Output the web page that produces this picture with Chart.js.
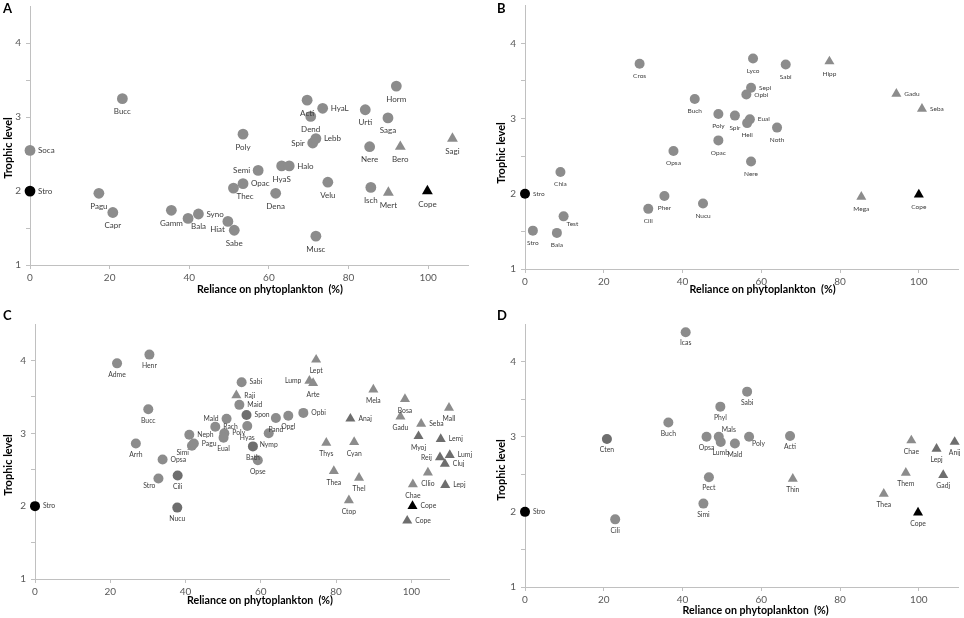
<!DOCTYPE html>
<html>
<head>
<meta charset="utf-8">
<script src="https://cdn.jsdelivr.net/npm/chart.js@4.4.1/dist/chart.umd.min.js"></script>
<style>
  body { margin: 0; background: #fff; width: 964px; height: 618px; position: relative; overflow: hidden; }
  .panel { position: absolute; }
</style>
</head>
<body>
<div class="panel" style="left:0;top:0;width:482px;height:305px"><canvas id="chartA"></canvas></div>
<div class="panel" style="left:482px;top:0;width:482px;height:305px"><canvas id="chartB"></canvas></div>
<div class="panel" style="left:0;top:305px;width:482px;height:313px"><canvas id="chartC"></canvas></div>
<div class="panel" style="left:482px;top:305px;width:482px;height:313px"><canvas id="chartD"></canvas></div>
<script>
const xTitle = "Reliance on phytoplankton  (%)";
const yTitle = "Trophic level";
const xTicks = [0, 20, 40, 60, 80, 100];
const yTickLabels = [1, 2, 3, 4];

// group codes: c = circle, cd = darker circle, t = triangle, td = darker triangle,
// rc = Stro reference (black circle), rt = Cope reference (black triangle)

// panel A
const namesA = ["Soca","Stro","Bucc","Pagu","Capr","Gamm","Bala","Syno","Hiat","Sabe","Thec","Opac","Semi","Poly","Dena","HyaS","Halo","Acti","HyaL","Dend","Spir","Lebb","Urti","Horm","Saga","Nere","Bero","Sagi","Velu","Isch","Mert","Cope","Musc"];
const relianceA = [0, 0, 23.2, 17.3, 20.8, 35.5, 39.7, 42.3, 49.7, 51.3, 51.1, 53.5, 57.3, 53.5, 61.7, 63.2, 65.1, 69.6, 73.5, 70.5, 71.0, 71.8, 84.2, 92.0, 89.9, 85.3, 93.0, 106.1, 74.8, 85.6, 90.0, 99.8, 71.8];
const trophicA = [2.55, 2.00, 3.25, 1.97, 1.71, 1.74, 1.63, 1.69, 1.59, 1.47, 2.04, 2.10, 2.28, 2.77, 1.97, 2.34, 2.34, 3.23, 3.12, 3.01, 2.65, 2.71, 3.10, 3.42, 2.99, 2.60, 2.60, 2.71, 2.12, 2.05, 1.98, 2.00, 1.39];
const groupA = ["c","rc","c","c","c","c","c","c","c","c","c","c","c","c","c","c","c","c","c","c","c","c","c","c","c","c","t","t","c","c","t","rt","c"];

// panel B
const namesB = ["Cros","Buch","Poly","Opac","Opsa","Chla","Stro","Test","Stro","Bala","Cili","Pher","Nucu","Lyco","Sabi","Hipp","Sepi","Opbi","Gadu","Seba","Spir","Eual","Heli","Noth","Nere","Mega","Cope"];
const relianceB = [29.1, 43.1, 49.1, 49.1, 37.7, 9.0, 0, 9.8, 2.0, 8.1, 31.3, 35.4, 45.2, 57.9, 66.2, 77.3, 57.4, 56.2, 94.3, 100.8, 53.3, 57.1, 56.4, 64.0, 57.4, 85.4, 100];
const trophicB = [3.73, 3.26, 3.06, 2.71, 2.57, 2.29, 2.00, 1.70, 1.51, 1.48, 1.80, 1.97, 1.87, 3.80, 3.72, 3.76, 3.41, 3.32, 3.33, 3.13, 3.04, 2.99, 2.94, 2.88, 2.43, 1.96, 1.99];
const groupB = ["c","c","c","c","c","c","rc","c","c","c","c","c","c","c","c","t","c","c","t","t","c","c","c","c","c","t","rt"];

// panel C
const namesC = ["Adme","Henr","Bucc","Arrh","Opsa","Stro","Cili","Nucu","Stro","Simi","Pagu","Neph","Rach","Mald","Poly","Eual","Sabi","Raji","Maid","Spon","Hyas","Pand","Opgl","Opbi","Nymp","Bath","Opse","Lept","Lump","Arte","Anaj","Thys","Cyan","Thea","Thel","Ctop","Mela","Bosa","Mall","Gadu","Seba","Myoj","Lemj","Reij","Lumj","Cluj","Cllio","Chae","Lepj","Cope","Cope"];
const relianceC = [21.8, 30.4, 30.1, 26.8, 33.9, 32.8, 37.9, 37.8, 0, 41.7, 42.2, 41.0, 47.9, 50.9, 50.3, 50.1, 54.9, 53.5, 54.3, 56.2, 56.4, 64.0, 67.3, 71.3, 62.1, 57.9, 59.2, 74.7, 72.9, 73.9, 83.8, 77.4, 84.8, 79.4, 86.1, 83.4, 89.9, 98.3, 110.0, 97.1, 102.6, 101.9, 107.8, 107.6, 110.2, 108.9, 104.4, 100.4, 109.0, 100.3, 98.9];
const trophicC = [3.96, 4.08, 3.33, 2.86, 2.64, 2.38, 2.42, 1.98, 2.00, 2.83, 2.86, 2.98, 3.09, 3.20, 3.00, 2.94, 3.70, 3.52, 3.39, 3.25, 3.10, 3.21, 3.24, 3.28, 3.00, 2.82, 2.63, 4.01, 3.72, 3.69, 3.20, 2.87, 2.88, 2.48, 2.39, 2.08, 3.60, 3.47, 3.35, 3.23, 3.13, 2.96, 2.92, 2.67, 2.70, 2.58, 2.46, 2.30, 2.29, 2.00, 1.80];
const groupC = ["c","c","c","c","c","c","cd","cd","rc","c","c","c","c","c","c","c","c","t","c","cd","c","c","c","c","c","cd","c","t","t","t","td","t","t","t","t","t","t","t","t","t","t","td","td","td","td","td","t","t","td","rt","td"];

// panel D
const namesD = ["Icas","Buch","Cten","Stro","Cili","Opsa","Lumb","Mals","Mald","Poly","Phyl","Sabi","Acti","Pect","Simi","Thin","Chae","Lepj","Anij","Them","Gadj","Thea","Cope"];
const relianceD = [40.8, 36.4, 20.8, 0, 22.9, 46.1, 49.7, 49.2, 53.3, 56.9, 49.6, 56.4, 67.3, 46.7, 45.3, 68.0, 98.1, 104.5, 109.1, 96.7, 106.2, 91.1, 99.8];
const trophicD = [4.39, 3.19, 2.97, 2.00, 1.90, 3.00, 2.93, 3.00, 2.91, 3.00, 3.40, 3.60, 3.01, 2.46, 2.11, 2.44, 2.95, 2.84, 2.93, 2.52, 2.49, 2.24, 1.99];
const groupD = ["c","c","cd","rc","c","c","c","c","c","c","c","c","c","c","c","t","t","td","td","t","td","t","rt"];

// where each name sits relative to its marker (layout only)
const sideA = ["e","e","s","s","s","s","se","e","sw","s","se","e","w","s","s","s","e","s","e","s","w","e","s","s","s","s","s","s","s","s","s","s","s"];
const sideB = ["s","s","s","s","s","s","e","se","s","s","s","s","s","s","s","s","e","e","e","e","s","e","s","s","s","s","s"];
const sideC = ["s","s","s","s","e","sw","s","s","e","sw","e","e","e","w","e","s","e","e","e","e","s","s","s","e","s","s","s","s","w","s","e","s","s","s","s","s","s","s","s","s","e","s","e","w","e","e","s","s","e","e","e"];
const sideD = ["s","s","s","e","s","s","s","ne","s","se","s","s","s","s","s","s","s","s","s","s","s","s","s"];

const looks = {
  c:  { shape: "circle",   color: "#8c8c8c", r: 5 },
  cd: { shape: "circle",   color: "#6e6e6e", r: 5 },
  t:  { shape: "triangle", color: "#8c8c8c", r: 5.8 },
  td: { shape: "triangle", color: "#6e6e6e", r: 5.8 },
  rc: { shape: "circle",   color: "#000000", r: 5 },
  rt: { shape: "triangle", color: "#000000", r: 5.8 }
};

Chart.defaults.font.family = "Lato";

const panelText = {
  id: "panelText",
  afterDraw(chart, args, o) {
    const ctx = chart.ctx;
    const a = chart.chartArea;
    ctx.save();
    ctx.fillStyle = "#000";
    ctx.textBaseline = "middle";
    ctx.textAlign = "left";
    ctx.font = "bold 13px Lato";
    ctx.fillText(o.letter, o.letterX, o.letterY);
    ctx.font = "bold 11px Lato";
    ctx.textAlign = "center";
    ctx.fillText(xTitle, (a.left + a.right) / 2 + o.xShift, o.xTitleY, 146);
    ctx.translate(o.yTitleX, o.yTitleY);
    ctx.rotate(-Math.PI / 2);
    ctx.fillText(yTitle, 0, 0, 70);
    ctx.restore();
  }
};

const pointLabels = {
  id: "pointLabels",
  afterDatasetsDraw(chart, args, o) {
    const ctx = chart.ctx;
    const ds = chart.data.datasets[0];
    const meta = chart.getDatasetMeta(0);
    ctx.save();
    ctx.font = o.size + "px Lato";
    ctx.fillStyle = "#3c3c3c";
    ctx.textBaseline = "middle";
    meta.data.forEach((p, i) => {
      const side = ds.sides[i];
      const diag = side.length > 1;
      let dx = 0, dy = 0, align = "center";
      if (side.includes("s")) dy = diag ? o.gap * 0.65 : o.gap;
      if (side.includes("n")) dy = diag ? -o.gap * 0.6 : -o.gap;
      if (side.includes("e")) { dx = diag ? 3 : 8; align = "left"; }
      if (side.includes("w")) { dx = diag ? -3 : -8; align = "right"; }
      ctx.textAlign = align;
      ctx.fillText(ds.names[i], p.x + dx, p.y + dy);
    });
    ctx.restore();
  }
};

function renderPanel(id, names, xs, ys, groups, sides, cfg) {
  const ctx = document.getElementById(id);

  const points = xs.map((x, i) => ({ x: x, y: ys[i] }));

  return new Chart(ctx, {
    type: "scatter",
    data: {
      datasets: [{
        data: points,
        names: names,
        sides: sides,
        pointStyle: groups.map(g => looks[g].shape),
        pointRadius: groups.map(g => looks[g].r * cfg.scale),
        pointBackgroundColor: groups.map(g => looks[g].color),
        pointBorderWidth: 0,
        clip: false
      }]
    },
    options: {
      responsive: true,
      maintainAspectRatio: false,
      animation: false,
      events: [],
      layout: { padding: cfg.pad },
      plugins: {
        legend: { display: false },
        tooltip: { enabled: false },
        panelText: cfg.text,
        pointLabels: cfg.labels
      },
      scales: {
        x: {
          type: "linear",
          min: 0,
          max: 110,
          ticks: { stepSize: 20, color: "#595959", font: { size: 10 }, padding: 3, maxRotation: 0 },
          grid: { drawOnChartArea: false, drawTicks: true, tickLength: 4, color: "#c0c0c0" },
          border: { color: "#c0c0c0" },
          afterBuildTicks: s => { s.ticks = xTicks.map(v => ({ value: v })); },
          afterFit: s => { s.height = cfg.xh; s.paddingLeft = 0; s.paddingRight = 0; }
        },
        y: {
          type: "linear",
          min: 1,
          max: 4.5,
          ticks: {
            stepSize: 0.5,
            autoSkip: false,
            color: "#595959",
            font: { size: 10 },
            padding: 5,
            callback: v => yTickLabels.includes(v) ? v : ""
          },
          grid: { drawOnChartArea: false, drawTicks: true, tickLength: 4, color: "#c0c0c0" },
          border: { color: "#c0c0c0" },
          afterBuildTicks: s => { s.ticks = s.ticks.filter(t => t.value < 4.5); },
          afterFit: s => { s.width = cfg.yw; s.paddingTop = 0; s.paddingBottom = 0; }
        }
      }
    },
    plugins: [panelText, pointLabels]
  });
}

renderPanel("chartA", namesA, relianceA, trophicA, groupA, sideA, {
  pad: { left: 0, top: 3, right: 14, bottom: 0 }, yw: 30, xh: 40, scale: 1.08,
  text: { letter: "A", letterX: 3, letterY: 9, xShift: 21, xTitleY: 289, yTitleX: 8, yTitleY: 148 },
  labels: { size: 8, gap: 13 }
});

renderPanel("chartB", namesB, relianceB, trophicB, groupB, sideB, {
  pad: { left: 0, top: 3, right: 2, bottom: 0 }, yw: 43, xh: 36, scale: 1,
  text: { letter: "B", letterX: 15, letterY: 9, xShift: 21, xTitleY: 289, yTitleX: 19, yTitleY: 153 },
  labels: { size: 6.5, gap: 12 }
});

renderPanel("chartC", namesC, relianceC, trophicC, groupC, sideC, {
  pad: { left: 0, top: 19, right: 33, bottom: 0 }, yw: 35, xh: 39, scale: 1,
  text: { letter: "C", letterX: 3, letterY: 11, xShift: 18, xTitleY: 295, yTitleX: 8, yTitleY: 160 },
  labels: { size: 6.8, gap: 11.5 }
});

renderPanel("chartD", namesD, relianceD, trophicD, groupD, sideD, {
  pad: { left: 0, top: 19, right: 4, bottom: 0 }, yw: 43, xh: 31, scale: 1,
  text: { letter: "D", letterX: 15, letterY: 11, xShift: 14, xTitleY: 305, yTitleX: 19, yTitleY: 165 },
  labels: { size: 6.8, gap: 11 }
});
</script>
</body>
</html>
